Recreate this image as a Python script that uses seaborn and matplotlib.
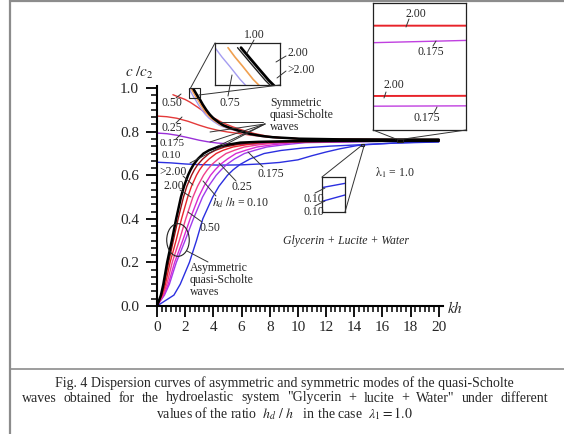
import matplotlib
matplotlib.use("Agg")
import matplotlib.pyplot as plt
from matplotlib.lines import Line2D
from matplotlib.patches import Ellipse, Rectangle
from matplotlib.ticker import AutoMinorLocator
import seaborn as sns

# ---------------- data ----------------
# Asymmetric quasi-Scholte modes (rising from the origin)
A_gt2_kh = [0, 0.28, 0.45, 0.72, 1.05, 1.36, 1.7, 1.92, 2.2, 2.38, 2.6, 2.9, 3.3, 3.7, 4.3, 5.0, 5.9, 7.2, 9.0, 13.0, 17.0, 20.0]
A_gt2_c = [0, 0.05, 0.10, 0.20, 0.30, 0.40, 0.50, 0.55, 0.60, 0.625, 0.65, 0.675, 0.70, 0.715, 0.73, 0.74, 0.75, 0.7535, 0.756, 0.7578, 0.7581, 0.7582]
A_200_kh = [0, 0.32, 0.52, 0.82, 1.16, 1.5, 1.88, 2.12, 2.45, 2.65, 2.9, 3.25, 3.7, 4.15, 4.8, 5.6, 6.6, 8.0, 9.8, 13.5, 17.0, 20.0]
A_200_c = [0, 0.05, 0.10, 0.20, 0.30, 0.40, 0.50, 0.55, 0.60, 0.625, 0.65, 0.675, 0.70, 0.715, 0.73, 0.74, 0.75, 0.7535, 0.756, 0.7572, 0.7578, 0.7579]
A_100_kh = [0, 0.36, 0.6, 0.93, 1.35, 1.74, 2.18, 2.45, 2.8, 3.02, 3.3, 3.7, 4.2, 4.7, 5.4, 6.3, 7.4, 8.8, 10.5, 14.0, 17.0, 20.0]
A_100_c = [0, 0.05, 0.10, 0.20, 0.30, 0.40, 0.50, 0.55, 0.60, 0.625, 0.65, 0.675, 0.70, 0.715, 0.73, 0.74, 0.75, 0.753, 0.755, 0.7568, 0.7575, 0.7577]
A_050_kh = [0, 0.42, 0.7, 1.08, 1.58, 2.04, 2.55, 2.88, 3.3, 3.57, 3.9, 4.35, 4.9, 5.5, 6.2, 7.2, 8.4, 10.0, 11.5, 14.5, 17.0, 20.0]
A_050_c = [0, 0.05, 0.10, 0.20, 0.30, 0.40, 0.50, 0.55, 0.60, 0.625, 0.65, 0.675, 0.70, 0.715, 0.73, 0.74, 0.75, 0.7525, 0.754, 0.7565, 0.7573, 0.7575]
A_025_kh = [0, 0.48, 0.8, 1.25, 1.82, 2.35, 2.95, 3.33, 3.8, 4.12, 4.5, 5.0, 5.6, 6.3, 7.1, 8.2, 9.6, 11.0, 12.5, 15.0, 17.0, 20.0]
A_025_c = [0, 0.05, 0.10, 0.20, 0.30, 0.40, 0.50, 0.55, 0.60, 0.625, 0.65, 0.675, 0.70, 0.715, 0.73, 0.74, 0.75, 0.752, 0.7535, 0.756, 0.7571, 0.7573]
A_0175_kh = [0, 0.53, 0.88, 1.37, 1.99, 2.58, 3.23, 3.66, 4.2, 4.55, 4.95, 5.5, 6.2, 6.95, 7.8, 9.0, 10.5, 12.0, 13.5, 15.5, 17.0, 20.0]
A_0175_c = [0, 0.05, 0.10, 0.20, 0.30, 0.40, 0.50, 0.55, 0.60, 0.625, 0.65, 0.675, 0.70, 0.715, 0.73, 0.74, 0.75, 0.7515, 0.753, 0.7558, 0.7569, 0.7571]
A_010_kh = [0, 1.2, 1.65, 2.3, 2.8, 3.25, 3.95, 4.4, 5.0, 5.4, 5.9, 6.6, 7.6, 8.8, 10.3, 12.3, 14.2, 15.0, 17.0, 20.0]
A_010_c = [0, 0.05, 0.10, 0.20, 0.30, 0.40, 0.50, 0.55, 0.60, 0.625, 0.65, 0.675, 0.70, 0.714, 0.725, 0.734, 0.7395, 0.7425, 0.748, 0.753]

# Symmetric quasi-Scholte modes (descending)
S_gt2_kh = [2.6, 2.7, 2.8, 2.92, 3.05, 3.25, 3.5, 3.75, 4.0, 4.35, 4.7, 5.2, 5.7, 6.6, 7.4, 8.2, 10.1, 13.0, 17.0, 20.0]
S_gt2_c = [0.995, 0.984, 0.973, 0.96, 0.948, 0.925, 0.90, 0.879, 0.862, 0.845, 0.83, 0.817, 0.807, 0.79, 0.781, 0.775, 0.768, 0.765, 0.7641, 0.7640]
S_200_kh = [2.56, 2.66, 2.76, 2.88, 3.01, 3.2, 3.45, 3.7, 3.95, 4.3, 4.65, 5.15, 5.65, 6.55, 7.35, 8.1, 10.0, 13.0, 17.0, 20.0]
S_200_c = [0.995, 0.984, 0.973, 0.96, 0.948, 0.925, 0.90, 0.879, 0.862, 0.845, 0.83, 0.817, 0.807, 0.79, 0.781, 0.775, 0.768, 0.765, 0.7640, 0.7640]
S_100_kh = [2.45, 2.53, 2.62, 2.74, 2.88, 3.08, 3.33, 3.58, 3.83, 4.2, 4.55, 5.05, 5.55, 6.5, 7.25, 8.0, 10.0, 13.0, 17.0, 20.0]
S_100_c = [0.995, 0.985, 0.975, 0.961, 0.948, 0.925, 0.90, 0.879, 0.862, 0.845, 0.83, 0.817, 0.807, 0.79, 0.781, 0.775, 0.767, 0.7645, 0.7638, 0.7638]
S_075_kh = [2.3, 2.38, 2.47, 2.59, 2.72, 2.93, 3.18, 3.44, 3.7, 4.06, 4.42, 4.93, 5.43, 6.4, 7.15, 7.9, 10.0, 13.0, 17.0, 20.0]
S_075_c = [0.995, 0.985, 0.975, 0.961, 0.948, 0.925, 0.90, 0.879, 0.862, 0.845, 0.83, 0.817, 0.807, 0.79, 0.781, 0.775, 0.767, 0.7643, 0.7636, 0.7636]
S_050_kh = [1.13, 1.6, 2.0, 2.34, 2.9, 3.5, 4.1, 4.7, 5.4, 6.1, 6.9, 7.8, 8.9, 10.1, 13.0, 17.0, 20.0]
S_050_c = [0.97, 0.958, 0.948, 0.936, 0.912, 0.885, 0.861, 0.84, 0.822, 0.807, 0.792, 0.78, 0.772, 0.768, 0.7645, 0.7637, 0.7636]
S_025_kh = [0, 0.7, 1.4, 2.2, 3.0, 3.6, 4.3, 5.0, 5.7, 6.7, 7.8, 8.9, 10.0, 13.0, 17.0, 20.0]
S_025_c = [0.872, 0.869, 0.862, 0.848, 0.83, 0.818, 0.807, 0.799, 0.793, 0.784, 0.776, 0.771, 0.768, 0.7645, 0.7636, 0.7635]
S_0175_kh = [0, 0.7, 1.4, 2.2, 3.0, 3.6, 4.3, 5.0, 5.7, 6.5, 7.5, 8.7, 10.0, 11.5, 13.0, 17.0, 17.45, 20.0]
S_0175_c = [0.794, 0.791, 0.784, 0.773, 0.761, 0.754, 0.748, 0.745, 0.743, 0.743, 0.745, 0.748, 0.752, 0.756, 0.759, 0.7625, 0.7627, 0.7635]
S_010_kh = [0, 1.0, 2.0, 3.0, 4.3, 5.0, 6.0, 7.3, 8.7, 10.0, 11.0, 12.0, 13.0, 14.2, 15.0, 17.0, 20.0]
S_010_c = [0.66, 0.657, 0.652, 0.649, 0.647, 0.647, 0.648, 0.652, 0.659, 0.671, 0.69, 0.707, 0.722, 0.7365, 0.741, 0.749, 0.755]

x_ticks = [0, 2, 4, 6, 8, 10, 12, 14, 16, 18, 20]
y_ticks = [0.0, 0.2, 0.4, 0.6, 0.8, 1.0]

BLACK = "#000000"
DARKRED = "#9a0f14"
RED = "#e8232a"
PINK = "#f0408c"
MAGENTA = "#d82ad2"
VIOLET = "#a03cec"
BLUE = "#2b2fe0"
ORANGE = "#f0a050"
LAVENDER = "#a49cf0"
SRED = "#e43a3a"
SPURPLE = "#9a30d8"

curves = [
    (S_010_kh, S_010_c, BLUE, 1.0),
    (S_0175_kh, S_0175_c, SPURPLE, 1.0),
    (S_025_kh, S_025_c, SRED, 1.0),
    (S_050_kh, S_050_c, SRED, 1.0),
    (S_075_kh, S_075_c, LAVENDER, 1.0),
    (S_100_kh, S_100_c, ORANGE, 1.0),
    (S_200_kh, S_200_c, DARKRED, 1.0),
    (S_gt2_kh, S_gt2_c, BLACK, 1.8),
    (A_010_kh, A_010_c, BLUE, 1.0),
    (A_0175_kh, A_0175_c, VIOLET, 1.0),
    (A_025_kh, A_025_c, MAGENTA, 1.0),
    (A_050_kh, A_050_c, PINK, 1.0),
    (A_100_kh, A_100_c, RED, 1.0),
    (A_200_kh, A_200_c, DARKRED, 1.0),
    (A_gt2_kh, A_gt2_c, BLACK, 1.8),
]

# ---------------- style ----------------
sns.set_style("ticks")
plt.rcParams['font.family'] = ['Liberation Serif', 'DejaVu Serif']
plt.rcParams['mathtext.fontset'] = 'stix'

W, H = 564, 434
fig = plt.figure(figsize=(W / 100, H / 100), dpi=100)


def fx(x):
    return x / W


def fy(y):
    return 1 - y / H


def fline(x1, y1, x2, y2, lw=0.7, color="#333333"):
    fig.add_artist(Line2D([fx(x1), fx(x2)], [fy(y1), fy(y2)], transform=fig.transFigure,
                          color=color, lw=lw, zorder=5))


def ftext(x, y, s, size=8.5, ha="left", va="center", **kw):
    return fig.text(fx(x), fy(y), s, fontsize=size, ha=ha, va=va, **kw)


ax = fig.add_axes([157 / W, 1 - 306 / H, (443 - 157) / W, (306 - 86) / H])
for kh, c, col, lw in curves:
    sns.lineplot(x=kh, y=c, ax=ax, color=col, lw=lw, sort=False, estimator=None)

ax.set_xlim(0, 20.3)
ax.set_ylim(0, 1.01)
ax.set_xticks(x_ticks)
ax.set_xticklabels([str(v) for v in x_ticks])
ax.set_yticks(y_ticks)
ax.set_yticklabels([f"{v:.1f}" for v in y_ticks])
ax.xaxis.set_minor_locator(AutoMinorLocator(6))
ax.yaxis.set_minor_locator(AutoMinorLocator(6))
ax.tick_params(axis="both", which="major", direction="out", length=8, width=1.3, labelsize=11, color="k")
ax.tick_params(axis="both", which="minor", direction="out", length=4, width=1.1, color="k")
ax.tick_params(axis="y", which="major", pad=5)
ax.tick_params(axis="x", which="major", pad=3)
ax.set_xlabel("")
ax.set_ylabel("")
sns.despine(ax=ax)
for s in ("left", "bottom"):
    ax.spines[s].set_linewidth(1.5)
    ax.spines[s].set_color("k")

# Ellipse around asymmetric modes
ax.add_patch(Ellipse((1.49, 0.303), 1.6, 0.15, fill=False, lw=0.8, color="#222222", zorder=6))

# axis labels
ftext(125, 73, r"$c\ /c_2$", size=11)
ftext(447, 308, r"$kh$", size=11)


# ---------------- insets ----------------
def inset(px0, py0, px1, py1, xlim, ylim, items):
    iax = fig.add_axes([fx(px0), fy(py1), (px1 - px0) / W, (py1 - py0) / H])
    for kh, c, col, lw in items:
        sns.lineplot(x=kh, y=c, ax=iax, color=col, lw=lw, sort=False, estimator=None)
    iax.set_xlim(*xlim)
    iax.set_ylim(*ylim)
    iax.set_xticks([])
    iax.set_yticks([])
    iax.set_xlabel("")
    iax.set_ylabel("")
    for s in iax.spines.values():
        s.set_color("#222222")
        s.set_linewidth(0.9)
    iax.set_facecolor("white")
    return iax


# top-left inset
tl_xlim, tl_ylim = (2.3, 3.05), (0.955, 1.0)
inset(215, 43, 280, 85, tl_xlim, tl_ylim,
      [(S_075_kh, S_075_c, LAVENDER, 1.0), (S_100_kh, S_100_c, ORANGE, 1.2),
       (S_200_kh, S_200_c, "#222222", 1.0), (S_gt2_kh, S_gt2_c, BLACK, 2.0)])
ax.add_patch(Rectangle((tl_xlim[0], tl_ylim[0]), tl_xlim[1] - tl_xlim[0], tl_ylim[1] - tl_ylim[0],
                       fill=False, lw=0.8, color="#222222", clip_on=False, zorder=6))
fline(215, 43, 190, 89)
fline(280, 85, 199, 95)

# top-right inset
tr_xlim, tr_ylim = (17.0, 17.45), (0.7548, 0.7660)
inset(373, 3, 466, 130, tr_xlim, tr_ylim,
      [(S_200_kh, S_200_c, RED, 1.4), (S_0175_kh, S_0175_c, "#c040e0", 1.0),
       (A_200_kh, A_200_c, RED, 1.4), (A_0175_kh, A_0175_c, "#c040e0", 1.0)])
ax.add_patch(Rectangle((tr_xlim[0], tr_ylim[0]), tr_xlim[1] - tr_xlim[0], tr_ylim[1] - tr_ylim[0],
                       fill=False, lw=0.8, color="#222222", clip_on=False, zorder=6))
fline(373, 130, 396, 139)
fline(466, 130, 404, 139)

# small blue inset
bl_xlim, bl_ylim = (14.5, 14.7), (0.7363, 0.7425)
inset(322, 177, 345, 212, bl_xlim, bl_ylim,
      [(S_010_kh, S_010_c, BLUE, 1.0), (A_010_kh, A_010_c, BLUE, 1.0)])
ax.add_patch(Rectangle((bl_xlim[0], bl_ylim[0]), bl_xlim[1] - bl_xlim[0], bl_ylim[1] - bl_ylim[0],
                       fill=False, lw=0.8, color="#222222", clip_on=False, zorder=6))
fline(322, 177, 361, 146)
fline(345, 212, 364, 146)

# ---------------- annotations ----------------
ftext(161, 103, "0.50")
fline(176, 98, 181, 94)
ftext(161, 128, "0.25")
fline(176, 123, 182, 117)
ftext(160, 144, "0.175", size=8)
fline(176, 139, 181, 134)
ftext(162, 156, "0.10", size=8)
ftext(159, 172, ">2.00")
fline(183, 176, 193, 185)
ftext(163, 186, "2.00")
fline(180, 190, 191, 197)
ftext(219, 103, "0.75")
fline(228, 96, 232, 75)

ftext(244, 35, "1.00")
fline(254, 40, 247, 53)
ftext(287, 53, "2.00")
fline(286, 56, 276, 62)
ftext(287, 70, ">2.00")
fline(286, 71, 277, 78)

ftext(406, 14, "2.00")
fline(409, 19, 406, 27)
ftext(418, 52, "0.175")
fline(433, 46, 436, 41)
ftext(384, 85, "2.00")
fline(386, 92, 384, 98)
ftext(413, 118, "0.175")
fline(434, 113, 437, 107)

ftext(270, 103, "Symmetric", size=8.5)
ftext(270, 115, "quasi-Scholte", size=8.5)
ftext(270, 127, "waves", size=8.5)
fline(220, 122, 263, 122)
fline(265, 124, 210, 132)
fline(265, 124, 210, 142)
fline(265, 124, 190, 163)
fline(265, 124, 218, 146)

ftext(258, 174, "0.175")
fline(263, 167, 248, 152)
ftext(232, 187, "0.25")
fline(236, 181, 219, 163)
ftext(212, 203, r"$h_d\ /h$ = 0.10")
fline(216, 196, 203, 181)
ftext(200, 228, "0.50")
fline(202, 222, 188, 212)

ftext(375, 173, r"$\mathrm{\lambda_1}$ = 1.0")
ftext(303, 199, "0.10")
fline(315, 193, 325, 188)
ftext(303, 212, "0.10")
fline(315, 206, 325, 201)
ftext(283, 241, "Glycerin + Lucite + Water", style="italic")

ftext(190, 268, "Asymmetric", size=8.5)
ftext(190, 280, "quasi-Scholte", size=8.5)
ftext(190, 292, "waves", size=8.5)
fline(208, 262, 187, 251)

# ---------------- frame and caption ----------------
fline(10, 0, 10, 434, lw=1.6, color="#8c8c8c")
fline(10, 1, 564, 1, lw=1.6, color="#8c8c8c")
fline(10, 369, 564, 369, lw=1.2, color="#8c8c8c")

ftext(284, 383, "Fig. 4 Dispersion curves of asymmetric and symmetric modes of the quasi-Scholte", size=10, ha="center")

# justified second caption line
line2_words = 'waves obtained for the hydroelastic system "Glycerin + lucite + Water" under different'.split(" ")
renderer = fig.canvas.get_renderer()
word_widths = []
for w in line2_words:
    t = ftext(0, 0, w, size=10)
    word_widths.append(t.get_window_extent(renderer).width)
    t.remove()
x_left, x_right = 22, 548
gap = (x_right - x_left - sum(word_widths)) / (len(line2_words) - 1)
xpos = x_left
for w, ww in zip(line2_words, word_widths):
    ftext(xpos, 398, w, size=10)
    xpos += ww + gap

ftext(284, 414, r"values of the ratio  $h_d\ /\ h$   in the case  $\lambda_1 = 1.0$", size=10, ha="center")

fig.savefig("out.png", dpi=100)
